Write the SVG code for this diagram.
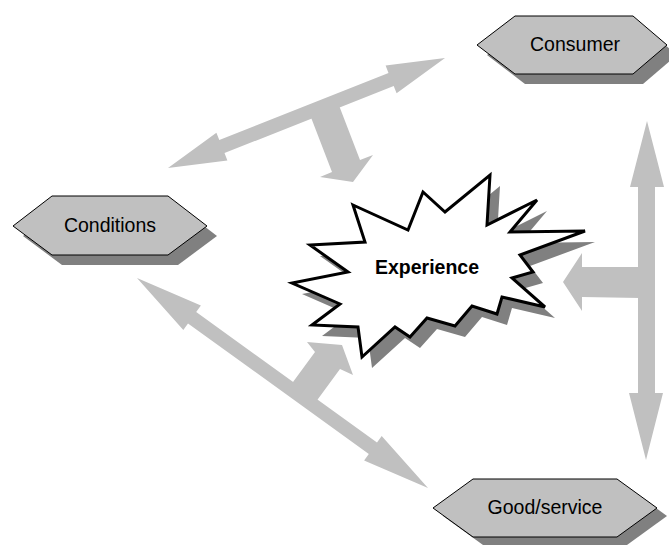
<svg xmlns="http://www.w3.org/2000/svg" width="669" height="545" viewBox="0 0 669 545">
<style>
.arrow{fill:#c0c0c0;stroke:none}
.hex{fill:#c0c0c0;stroke:#000;stroke-width:1}
.shadow{fill:#808080;stroke:none}
.lbl{font-family:"Liberation Sans",Arial,sans-serif;font-size:19.5px;fill:#000;text-anchor:middle}
.bold{font-weight:bold;font-size:19.5px}
</style>
<rect width="669" height="545" fill="#fff"/>
<g id="connectors">
  <polygon class="arrow" points="168,168 216.4,132.7 219.3,140.1 388.5,72.9 385.6,65.5 445,58 396.6,93.3 393.7,85.9 224.5,153.1 227.4,160.5"/>
  <polygon class="arrow" points="309,112 312,120 332,172 320,177 353,182 373,155 360,160 340,108 337,100"/>
  <polygon class="arrow" points="137,278 200.9,305.6 196.2,312.1 377,442.5 381.7,436 428,488 364.1,460.4 368.8,453.9 188,323.5 183.3,330"/>
  <polygon class="arrow" points="288,390 293,382 315,352 307,342 342,345 353,375 340,369 318,399 313,406"/>
  <polygon class="arrow" points="647,121 664,187 655,187 655,393 663,393 646,460 629,393 638,393 638,187 630,187"/>
  <polygon class="arrow" points="640,267 582,267 582,253 563,282 582,311 582,297 640,298"/>
</g>
<g id="experience">
  <polygon class="shadow" transform="translate(10,11)" points="353,205 408,230 423,192 445,212 490,175 487,225 537,200 510,232 585,231 520,255 533,272 512,278 545,307 502,297 497,314 472,306 455,326 427,318 410,337 395,327 362,357 358,327 312,325 340,304 292,283 348,272 310,245 365,242"/>
  <polygon fill="#fff" stroke="#000" stroke-width="3" stroke-linejoin="miter" points="353,205 408,230 423,192 445,212 490,175 487,225 537,200 510,232 585,231 520,255 533,272 512,278 545,307 502,297 497,314 472,306 455,326 427,318 410,337 395,327 362,357 358,327 312,325 340,304 292,283 348,272 310,245 365,242"/>
  <text class="lbl bold" x="427" y="274">Experience</text>
</g>
<g id="consumer">
  <polygon class="shadow" transform="translate(10,10)" points="477,45 515,16 633,16 667,45 633,74 515,74"/>
  <polygon class="hex" points="477,45 515,16 633,16 667,45 633,74 515,74"/>
  <text class="lbl" x="575" y="51">Consumer</text>
</g>
<g id="conditions">
  <polygon class="shadow" transform="translate(10,10)" points="13,226 52,196 168,196 207,226 168,255 52,255"/>
  <polygon class="hex" points="13,226 52,196 168,196 207,226 168,255 52,255"/>
  <text class="lbl" x="110" y="232">Conditions</text>
</g>
<g id="good-service">
  <polygon class="shadow" transform="translate(10,8)" points="433,508 473,479 617,479 657,508 617,537 473,537"/>
  <polygon class="hex" points="433,508 473,479 617,479 657,508 617,537 473,537"/>
  <text class="lbl" x="545" y="514">Good/service</text>
</g>
</svg>
